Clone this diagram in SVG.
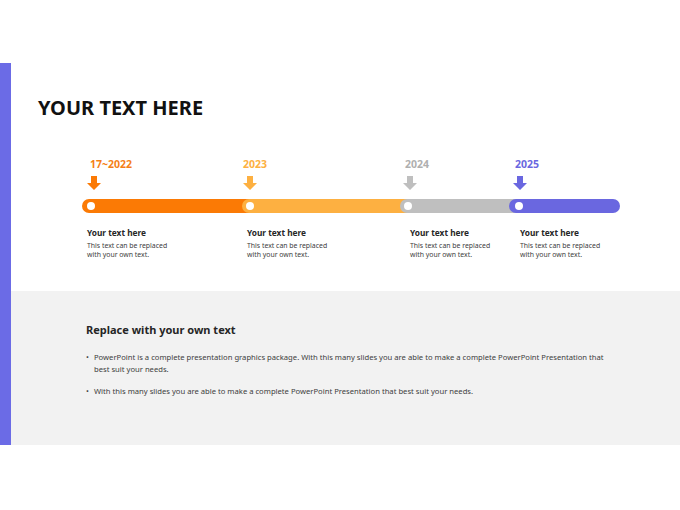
<svg xmlns="http://www.w3.org/2000/svg" width="680" height="510" viewBox="0 0 680 510">
<style>
.f{font-family:"Noto Sans","Open Sans","Liberation Sans",sans-serif}
.yr{font-size:10.5px;font-weight:bold}
.ct{font-size:8.3px;font-weight:bold;fill:#262626}
.cb{font-size:6.9px;fill:#404040}
.pb{font-size:7.65px;fill:#404040}
.dot{fill:#fff}
</style>
<defs>
<path id="arr" d="M-3,-7 H3 V0 H7 L0,7 L-7,0 H-3 Z"/>
</defs>
<rect x="0" y="0" width="680" height="510" fill="#fff"/>
<rect x="0" y="63" width="11" height="382" fill="#6B6BE6"/>
<rect x="11" y="291" width="669" height="154" fill="#F2F2F2"/>
<text class="f" x="38" y="115" font-size="20" font-weight="bold" fill="#111">YOUR TEXT HERE</text>

<g id="connectors">
<rect x="82" y="199" width="176" height="14" rx="7" fill="#FB7A05"/>
<rect x="242" y="199" width="176" height="14" rx="7" fill="#FDB041"/>
<rect x="400" y="199" width="125" height="14" rx="7" fill="#BFBFBF"/>
<rect x="509" y="199" width="111" height="14" rx="7" fill="#6A67E0"/>
</g>

<g id="node1">
<text class="f yr" x="90" y="168" fill="#F57F17">17~2022</text>
<use href="#arr" x="94" y="183" fill="#FB7A05"/>
<circle class="dot" cx="91" cy="206" r="4"/>
<text class="f ct" x="87" y="236">Your text here</text>
<text class="f cb" x="87" y="248">This text can be replaced</text>
<text class="f cb" x="87" y="257">with your own text.</text>
</g>
<g id="node2">
<text class="f yr" x="243" y="168" fill="#FDB041">2023</text>
<use href="#arr" x="250" y="183" fill="#FDB041"/>
<circle class="dot" cx="250" cy="206" r="4"/>
<text class="f ct" x="247" y="236">Your text here</text>
<text class="f cb" x="247" y="248">This text can be replaced</text>
<text class="f cb" x="247" y="257">with your own text.</text>
</g>
<g id="node3">
<text class="f yr" x="405" y="168" fill="#AFAFAF">2024</text>
<use href="#arr" x="410" y="183" fill="#BFBFBF"/>
<circle class="dot" cx="408" cy="206" r="4"/>
<text class="f ct" x="410" y="236">Your text here</text>
<text class="f cb" x="410" y="248">This text can be replaced</text>
<text class="f cb" x="410" y="257">with your own text.</text>
</g>
<g id="node4">
<text class="f yr" x="515" y="168" fill="#6A67E0">2025</text>
<use href="#arr" x="520" y="183" fill="#6A67E0"/>
<circle class="dot" cx="519" cy="206" r="4"/>
<text class="f ct" x="520" y="236">Your text here</text>
<text class="f cb" x="520" y="248">This text can be replaced</text>
<text class="f cb" x="520" y="257">with your own text.</text>
</g>

<g id="panel">
<text class="f" x="86" y="334" font-size="11" font-weight="bold" fill="#262626">Replace with your own text</text>
<text class="f pb" x="86" y="360">•</text>
<text class="f pb" x="94" y="360">PowerPoint is a complete presentation graphics package. With this many slides you are able to make a complete PowerPoint Presentation that</text>
<text class="f pb" x="94" y="372">best suit your needs.</text>
<text class="f pb" x="86" y="394">•</text>
<text class="f pb" x="94" y="394">With this many slides you are able to make a complete PowerPoint Presentation that best suit your needs.</text>
</g>
</svg>
